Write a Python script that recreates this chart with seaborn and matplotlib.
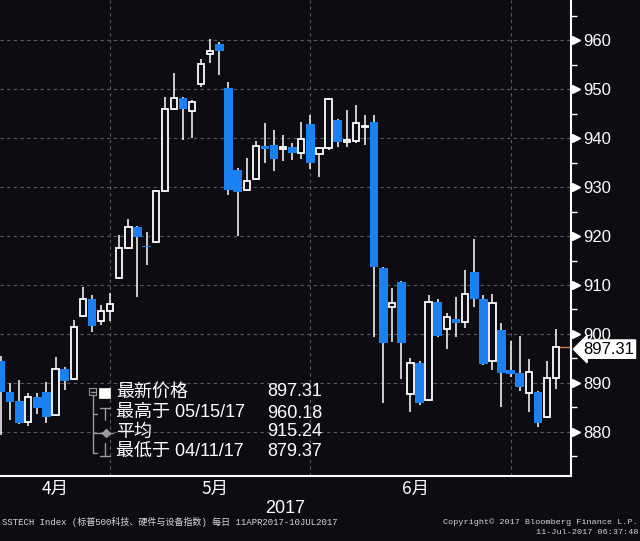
import numpy as np
import pandas as pd
import matplotlib
matplotlib.use("Agg")
import matplotlib.pyplot as plt
import matplotlib.transforms as mtransforms
from matplotlib.lines import Line2D
from matplotlib.patches import Rectangle
import seaborn as sns

# 日K线数据
opens = [894.5, 888.2, 886.3, 882.0, 887.1, 888.2, 883.5, 892.9, 890.8, 903.7,
         907.1, 902.7, 904.7, 911.4, 917.6, 921.8, 918.0, 918.8, 929.2, 945.9,
         948.2, 945.5, 951.0, 957.1, 959.2, 950.2, 933.5, 929.4, 931.6, 938.4,
         938.6, 937.8, 938.2, 937.0, 942.9, 936.7, 938.0, 943.7, 939.2, 939.4,
         942.3, 943.3, 913.5, 905.5, 910.6, 887.8, 894.1, 886.5, 906.5, 901.0,
         903.1, 902.4, 912.7, 907.1, 894.5, 900.8, 892.7, 892.0, 888.0, 888.2,
         883.1, 891.1]
highs = [895.5, 890.0, 890.6, 888.0, 888.0, 890.2, 895.3, 893.3, 902.9, 909.6,
         908.0, 906.0, 908.4, 920.2, 923.5, 922.0, 920.8, 929.4, 948.4, 953.3,
         948.4, 947.8, 956.1, 960.18, 959.6, 951.4, 933.8, 935.9, 939.4, 943.0,
         941.6, 940.6, 939.0, 943.3, 944.7, 938.2, 948.2, 943.9, 945.7, 946.7,
         944.7, 944.7, 913.7, 909.4, 910.8, 895.1, 894.5, 908.0, 907.1, 904.3,
         907.6, 913.1, 919.4, 908.0, 908.2, 902.2, 898.6, 899.6, 894.9, 888.4,
         894.5, 901.0]
lows = [879.37, 882.4, 881.6, 881.2, 883.7, 881.8, 883.3, 888.6, 890.6, 903.5,
        900.4, 901.8, 902.7, 911.2, 917.4, 907.5, 914.0, 918.5, 929.0, 945.7,
        939.6, 940.0, 950.4, 955.3, 952.9, 928.4, 920.0, 929.2, 931.4, 934.9,
        933.3, 935.3, 935.5, 935.7, 933.7, 932.0, 937.6, 938.2, 938.2, 939.0,
        938.6, 899.4, 885.9, 898.4, 890.8, 884.1, 885.5, 886.3, 899.4, 896.9,
        899.4, 901.2, 905.5, 893.7, 892.7, 885.1, 891.2, 888.4, 884.1, 881.0,
        882.9, 888.8]
closes = [888.2, 886.1, 881.8, 887.1, 884.9, 883.1, 892.9, 890.4, 901.4, 907.1,
          901.6, 904.7, 906.1, 917.6, 921.8, 919.8, 917.7, 929.2, 945.9, 948.2,
          945.9, 947.3, 955.1, 957.8, 957.8, 929.4, 929.0, 931.2, 938.4, 937.8,
          935.7, 938.2, 937.0, 939.8, 934.9, 938.0, 948.0, 939.2, 939.6, 943.1,
          942.5, 913.7, 898.2, 906.3, 898.2, 894.1, 885.9, 906.5, 899.6, 903.5,
          902.2, 908.2, 907.1, 893.9, 906.3, 892.0, 891.8, 889.2, 892.2, 881.8,
          891.1, 897.31]

holidays = ['2017-04-14', '2017-05-29', '2017-07-04']
month_labels = ['4月', '5月', '6月']
year_label = '2017'
y_ticks = [880, 890, 900, 910, 920, 930, 940, 950, 960]
y_minor = [875, 885, 895, 905, 915, 925, 935, 945, 955, 965]

legend_names = ['最新价格', '最高于 05/15/17', '平均', '最低于 04/11/17']
legend_values = ['897.31', '960.18', '915.24', '879.37']
last_price = 897.31

footer_left = 'SSTECH Index (标普500科技、硬件与设备指数) 每日 11APR2017-10JUL2017'
footer_right = ['Copyright\u00a9 2017 Bloomberg Finance L.P.', '11-Jul-2017 06:37:48']

BG = '#0c0c12'
BLUE = '#1b80f0'
GRID = '#5a5a62'
ICON = '#9a9a9a'

sns.set_theme(style="dark", rc={'axes.facecolor': BG, 'figure.facecolor': BG})
plt.rcParams['font.family'] = ['Liberation Sans', 'Noto Sans CJK SC', 'DejaVu Sans']
CJK = ['Noto Sans CJK SC', 'DejaVu Sans']
MIX = ['Liberation Sans', 'Noto Sans CJK SC', 'DejaVu Sans']
MONO = ['Liberation Mono', 'Noto Sans CJK SC', 'DejaVu Sans']

# 交易日
days = pd.bdate_range('2017-04-11', '2017-07-10')
days = days[~days.isin(pd.to_datetime(holidays))]
df = pd.DataFrame({'date': days, 'open': opens, 'high': highs,
                   'low': lows, 'close': closes})
df['idx'] = np.arange(len(df))
df['up'] = df['close'] >= df['open']
df['month'] = df['date'].dt.month

month_end = df.groupby('month')['idx'].max().loc[[4, 5, 6]].values
month_mid = df.groupby('month')['idx'].mean().loc[[4, 5, 6]].values

W, H = 640, 541


def fx(x):
    return x / W


def fy(y):
    return 1 - y / H


fig = plt.figure(figsize=(6.4, 5.41), dpi=100)
ax = fig.add_axes([0, fy(476), fx(571), 476 / H])

# 影线
ax.vlines(df['idx'], df['low'], df['high'], color='white', lw=1.1, zorder=2)
# 阴线 (蓝色实心)
dn = df[~df['up']]
ax.bar(dn['idx'], np.maximum(dn['open'] - dn['close'], 0.35), bottom=dn['close'],
       width=0.95, color=BLUE, linewidth=0, zorder=3)
# 阳线 (空心)
up = df[df['up']]
ax.bar(up['idx'], np.maximum(up['close'] - up['open'], 0.1), bottom=up['open'],
       width=0.7, facecolor=BG, edgecolor='white', linewidth=1.3, zorder=3)

# 最新价格线
x_right = 62.64
ax.hlines(last_price, df['idx'].iloc[-1], x_right, color='#d9783a', lw=1, zorder=1)

ax.set_xlim(-0.11, x_right)
ax.set_ylim(871.0, 968.2)

# 网格
ax.set_yticks(y_ticks)
ax.set_yticks(y_minor, minor=True)
ax.set_xticks(month_end)
ax.set_xticklabels([''] * len(month_end))
ax.set_xticks(month_mid, minor=True)
ax.set_xticklabels(month_labels, minor=True, family=CJK)
ax.grid(True, which='major', color=GRID, ls=(0, (3, 3)), lw=0.8)

ax.yaxis.tick_right()
ax.tick_params(axis='y', which='major', length=0, pad=9, labelsize=12,
               labelcolor='white')
ax.tick_params(axis='y', which='minor', length=4, width=1, color='white',
               direction='out')
ax.tick_params(axis='x', which='major', length=8, width=1, color='white',
               direction='inout')
ax.tick_params(axis='x', which='minor', length=0, pad=3, labelsize=12.5,
               labelcolor='white')
ax.set_xlabel(year_label, color='white', fontsize=13, labelpad=1)

for side in ['left', 'top']:
    ax.spines[side].set_visible(False)
for side in ['right', 'bottom']:
    ax.spines[side].set_color('white')
    ax.spines[side].set_linewidth(1.5)

# 刻度三角标记
trans = mtransforms.blended_transform_factory(ax.transAxes, ax.transData)
ax.plot([1 + 5 / 571] * len(y_ticks), y_ticks, marker='>', ls='none', ms=6,
        color='white', transform=trans, clip_on=False)

# 最新价格标签
ax.text(1 + 12 / 571, last_price - 0.4, f'{last_price:.2f}', transform=trans,
        ha='left', va='center', color='black', fontsize=12,
        bbox=dict(boxstyle='larrow,pad=0.1', fc='white', ec='white'),
        clip_on=False, zorder=5)

# 图例
rows_y = [392, 413, 432, 451]
for name, val, yy in zip(legend_names, legend_values, rows_y):
    fig.text(fx(116), fy(yy), name, color='white', fontsize=13, va='center',
             ha='left', family=MIX)
    fig.text(fx(322), fy(yy), val, color='white', fontsize=13, va='center',
             ha='right', family=MIX)


def seg(x0, y0, x1, y1, c=ICON, lw=1):
    fig.add_artist(Line2D([fx(x0), fx(x1)], [fy(y0), fy(y1)], color=c, lw=lw))


fig.add_artist(Rectangle((fx(89), fy(395)), fx(7), 7 / H, fill=False,
                         ec=ICON, lw=0.8))
seg(90.5, 391.5, 94.5, 391.5)
seg(92.5, 395, 92.5, 453)
seg(92.5, 414, 97, 414)
seg(92.5, 433, 97, 433)
seg(92.5, 452.5, 97, 452.5)
fig.add_artist(Rectangle((fx(99), fy(398)), fx(11), 10 / H, fc='white',
                         ec='white', lw=0.5))
seg(100, 408, 110, 408)
seg(105, 408, 105, 420)
seg(98, 433, 113, 433)
fig.add_artist(Line2D([fx(105.5)], [fy(433)], marker='D', ms=4, color=ICON))
seg(105, 443, 105, 456)
seg(100, 456, 110, 456)

# 页脚
fig.text(fx(2), fy(522), footer_left, color='#d8d8d8', fontsize=6.5,
         va='center', ha='left', family=MONO)
fig.text(fx(638), fy(522), footer_right[0], color='#d8d8d8', fontsize=6.1,
         va='center', ha='right', family=MONO)
fig.text(fx(638), fy(533), footer_right[1], color='#d8d8d8', fontsize=6.1,
         va='center', ha='right', family=MONO)

fig.savefig('out.png', dpi=100, facecolor=BG)
